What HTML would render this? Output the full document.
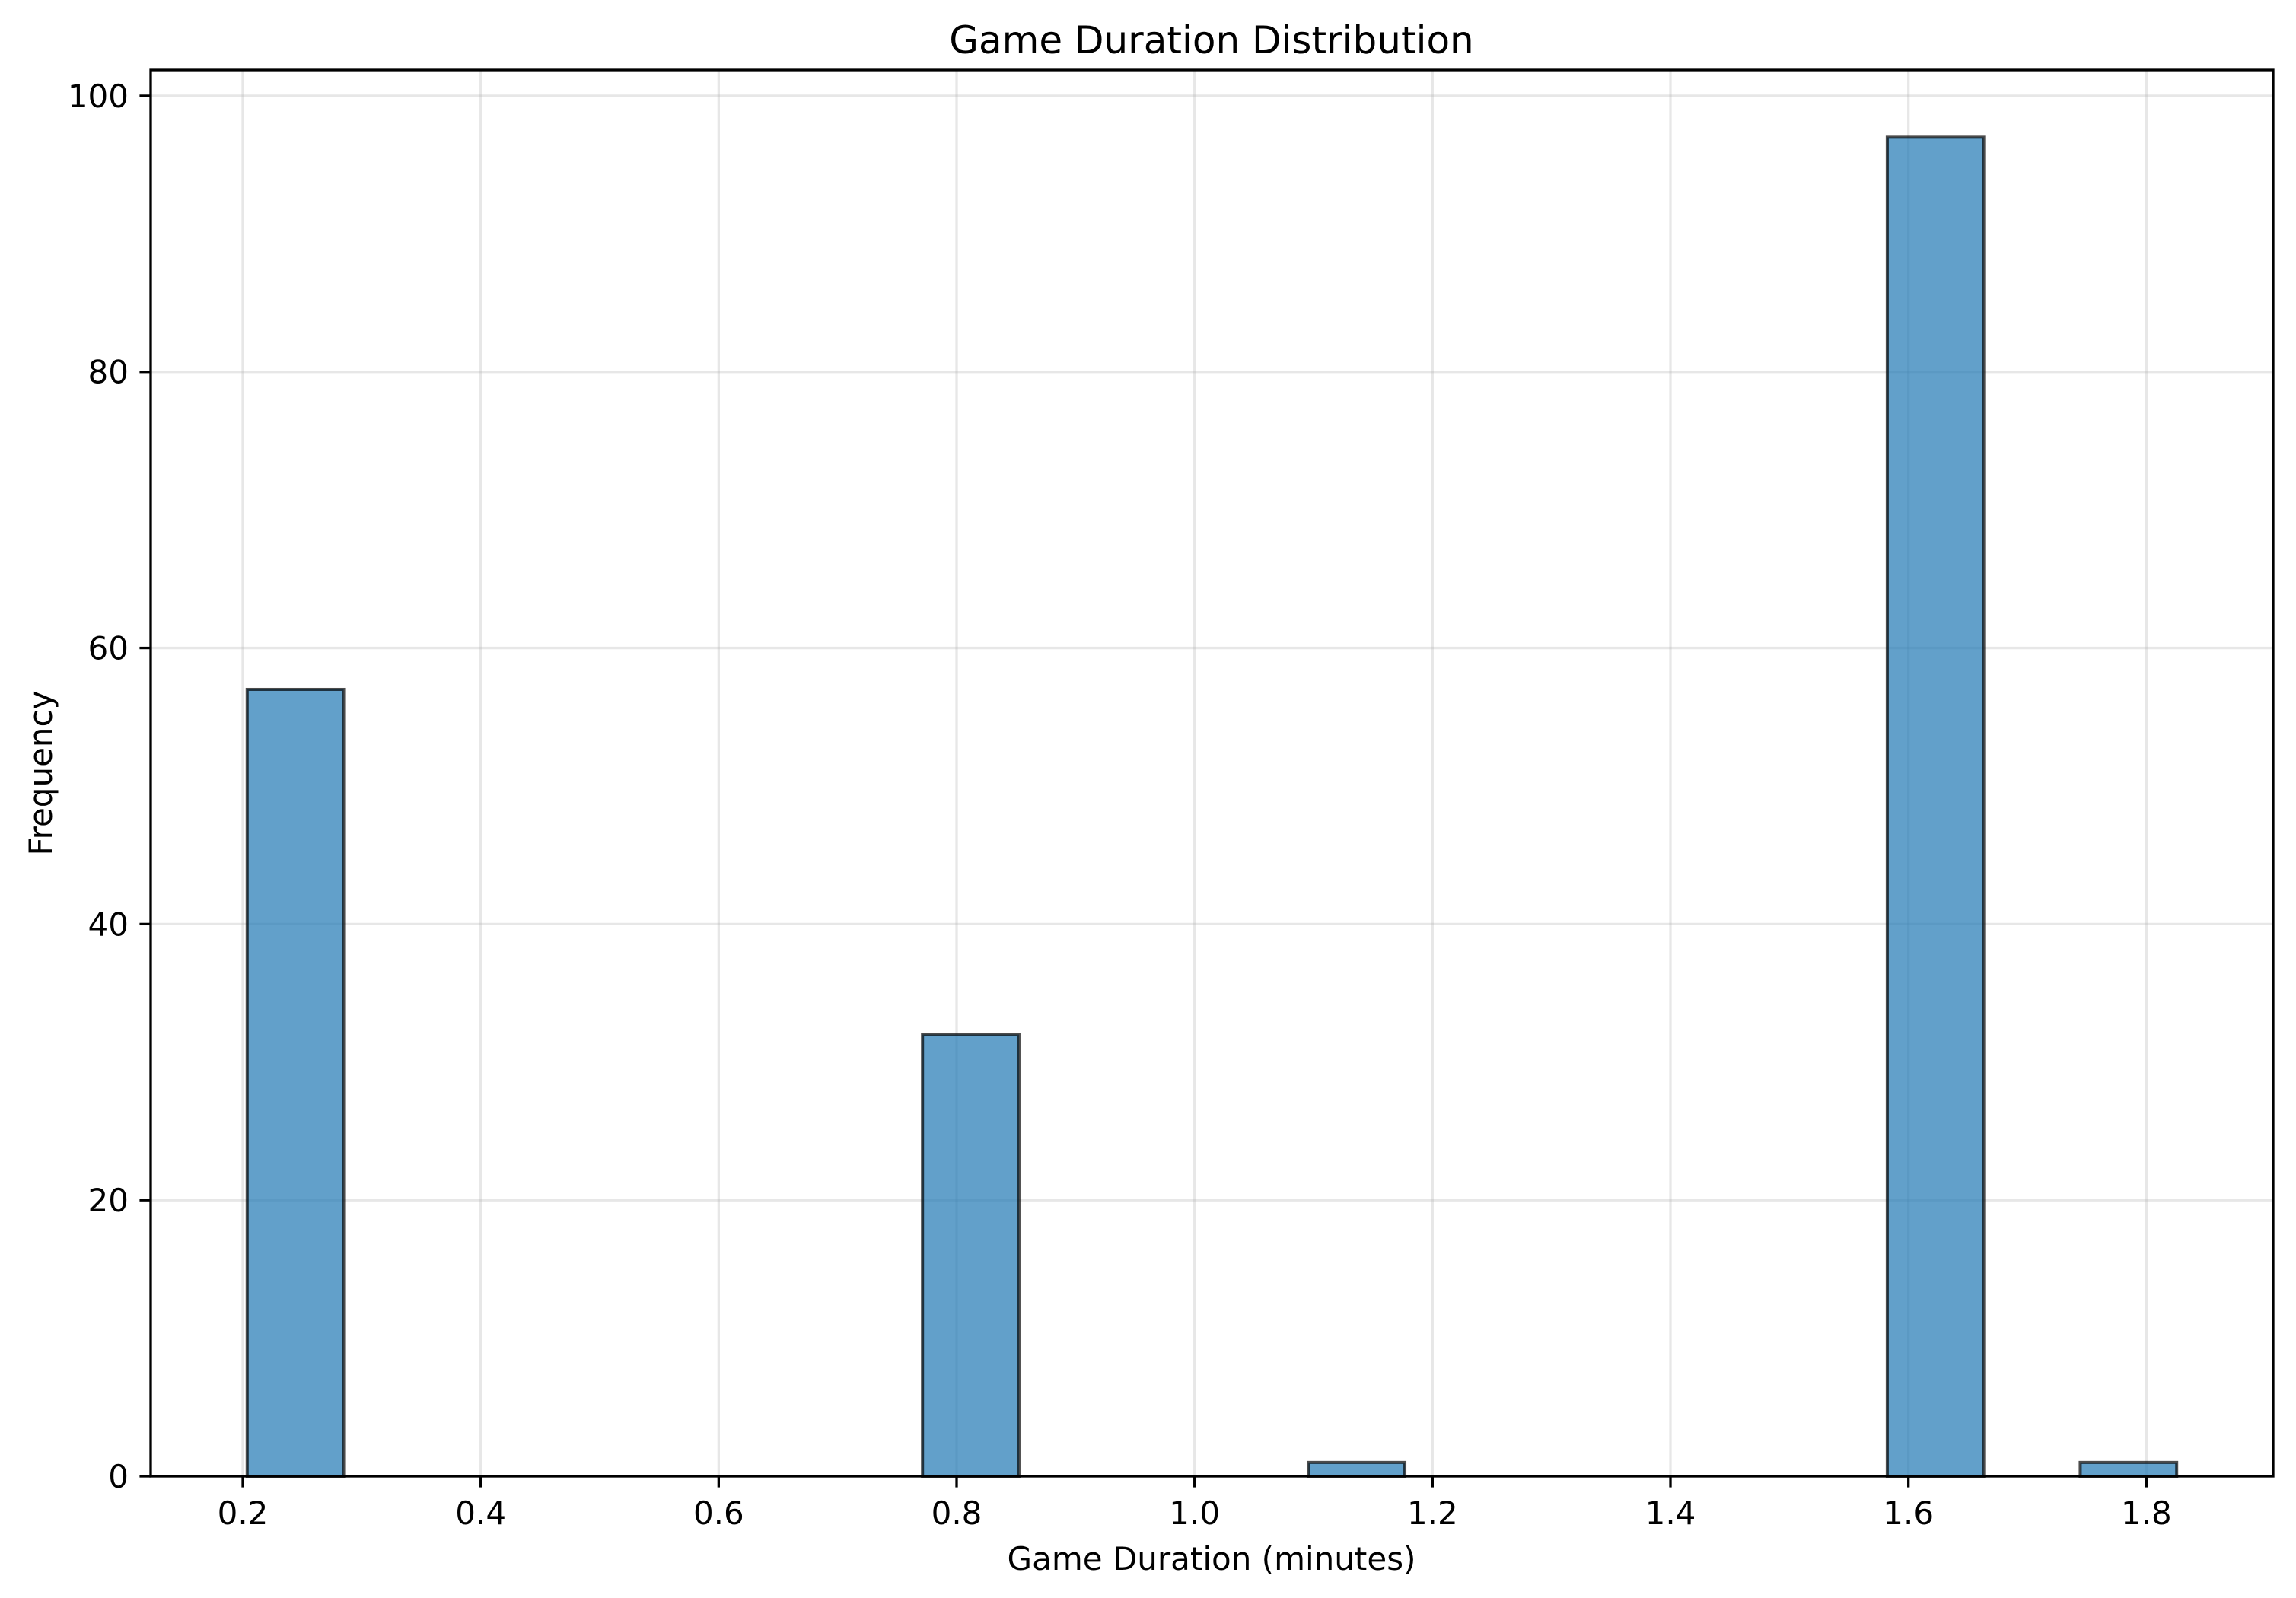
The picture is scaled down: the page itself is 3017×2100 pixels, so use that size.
<!DOCTYPE html>
<html><head><meta charset="utf-8"><style>
html,body{margin:0;padding:0;background:#fff;}
svg{display:block;font-family:"DejaVu Sans","Liberation Sans",sans-serif;}
</style></head><body>
<svg id="chart" width="3017" height="2100" viewBox="0 0 3017 2100" xmlns="http://www.w3.org/2000/svg">
<rect x="0" y="0" width="3017" height="2100" fill="#fff"/>
<g id="grid"></g>
<g id="bars"></g>
<g id="axes"></g>
<text x="1592" y="70" font-size="50" text-anchor="middle" fill="#000">Game Duration Distribution</text>
<text x="1592" y="2063" font-size="42" text-anchor="middle" fill="#000">Game Duration (minutes)</text>
<text x="0" y="0" font-size="42" text-anchor="middle" fill="#000" transform="translate(68,1016) rotate(-90)">Frequency</text>
</svg>
<script>
const binStart = 0.2037;
const binWidth = 0.08109;
const counts = [57,0,0,0,0,0,0,32,0,0,0,1,0,0,0,0,0,97,0,1];
const xTicks = [0.2,0.4,0.6,0.8,1.0,1.2,1.4,1.6,1.8];
const xTickLabels = ["0.2","0.4","0.6","0.8","1.0","1.2","1.4","1.6","1.8"];
const yTicks = [0,20,40,60,80,100];
const yTickLabels = ["0","20","40","60","80","100"];

const L=198,R=2987,T=92,B=1940;
const xMin=0.1226,xMax=1.9066,yMin=0,yMax=101.87;
const NS="http://www.w3.org/2000/svg";
function X(v){return L+(v-xMin)/(xMax-xMin)*(R-L);}
function Y(v){return B-(v-yMin)/(yMax-yMin)*(B-T);}
function mk(tag,attrs,parent){const e=document.createElementNS(NS,tag);for(const k in attrs)e.setAttribute(k,attrs[k]);parent.appendChild(e);return e;}
const grid=document.getElementById('grid'),bars=document.getElementById('bars'),axes=document.getElementById('axes');

xTicks.forEach((t,i)=>{
  const g=mk('line',{x1:X(t),x2:X(t),y1:T,y2:B,stroke:'#b0b0b0','stroke-opacity':0.3,'stroke-width':3.3},grid);
  
  
  const tk=mk('line',{x1:X(t),x2:X(t),y1:B,y2:B+14.6,stroke:'#000','stroke-width':3.3},axes);
  
  
  const lb=mk('text',{x:X(t),y:2003,'font-size':42,'text-anchor':'middle',fill:'#000'},axes);
  lb.textContent=xTickLabels[i];
  
  
});
yTicks.forEach((t,i)=>{
  const g=mk('line',{x1:L,x2:R,y1:Y(t),y2:Y(t),stroke:'#b0b0b0','stroke-opacity':0.3,'stroke-width':3.3},grid);
  
  
  const tk=mk('line',{x1:L-14.6,x2:L,y1:Y(t),y2:Y(t),stroke:'#000','stroke-width':3.3},axes);
  
  
  const lb=mk('text',{x:L-29,y:Y(t)+15,'font-size':42,'text-anchor':'end',fill:'#000'},axes);
  lb.textContent=yTickLabels[i];
  
  
});
counts.forEach((c,i)=>{
  if(c<=0)return;
  const x0=X(binStart+i*binWidth),x1=X(binStart+(i+1)*binWidth);
  const r=mk('rect',{x:x0,y:Y(c),width:x1-x0,height:Y(0)-Y(c),fill:'#1f77b4','fill-opacity':0.7,stroke:'#000','stroke-opacity':0.7,'stroke-width':4},bars);
  
  
});
const frame=mk('rect',{x:L,y:T,width:R-L,height:B-T,fill:'none',stroke:'#000','stroke-width':3.3},axes);


</script>
</body></html>
